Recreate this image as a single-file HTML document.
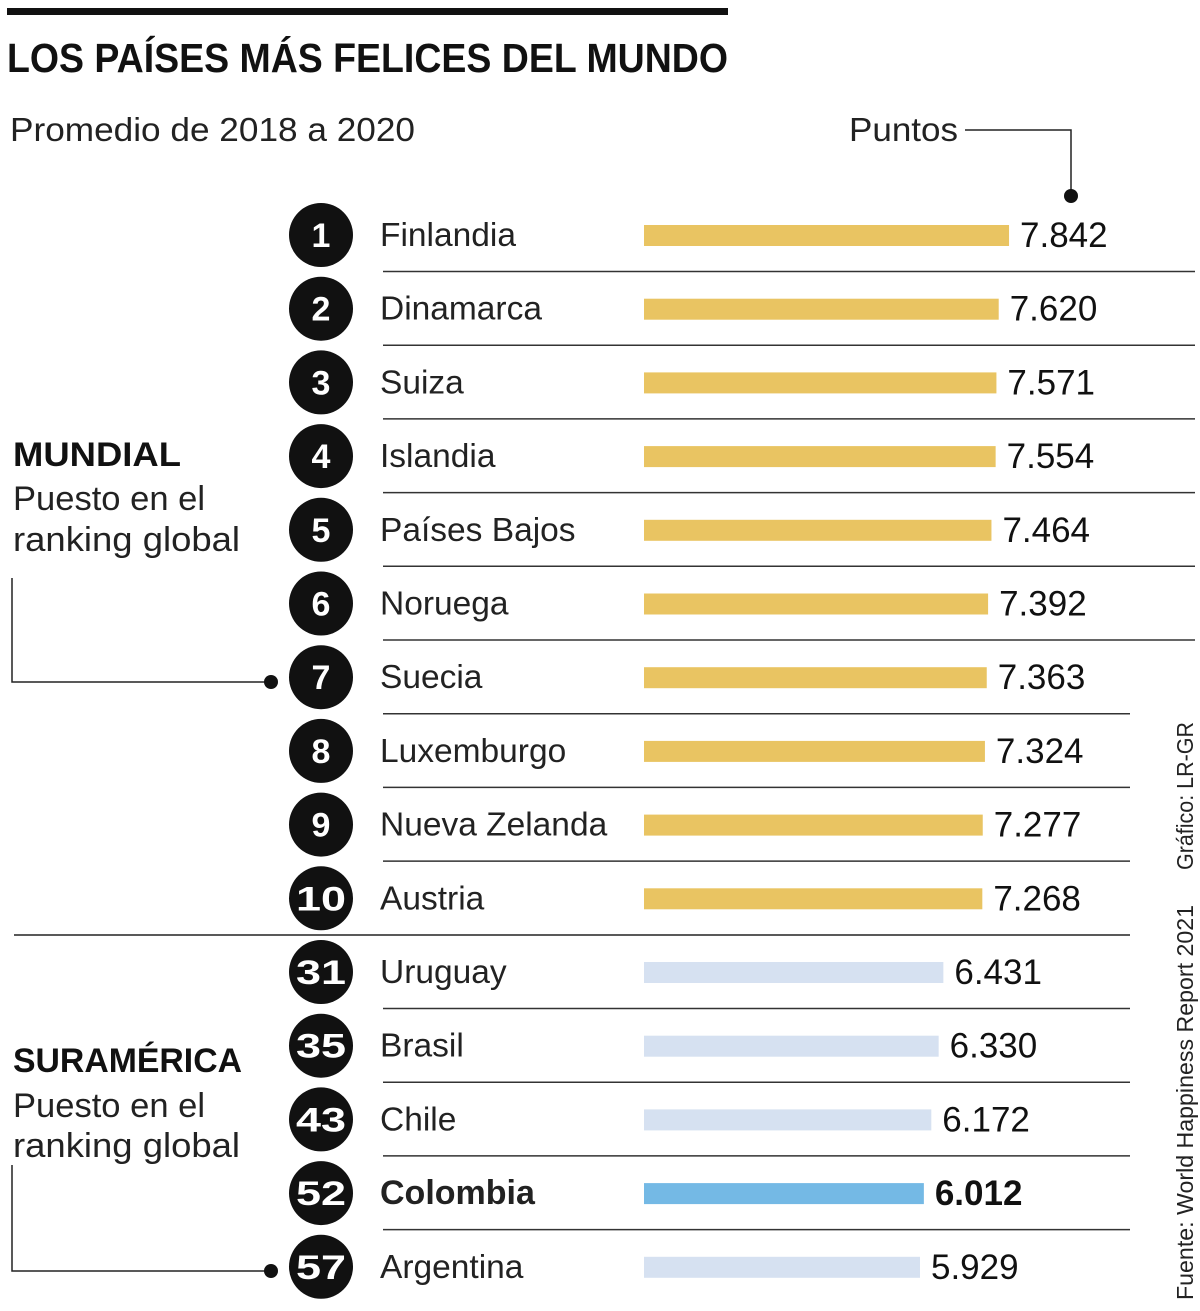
<!DOCTYPE html>
<html><head><meta charset="utf-8"><style>
html,body{margin:0;padding:0;background:#fff}
svg{display:block;font-family:"Liberation Sans",sans-serif}
</style></head><body>
<svg id="chart" width="1200" height="1311" viewBox="0 0 1200 1311" xmlns="http://www.w3.org/2000/svg">
<rect x="7" y="8" width="721" height="7" fill="#111"/>
<text x="7" y="72" font-size="41" font-weight="bold" fill="#111" textLength="721" lengthAdjust="spacingAndGlyphs">LOS PAÍSES MÁS FELICES DEL MUNDO</text>
<text x="10" y="141" font-size="33" fill="#222" textLength="405" lengthAdjust="spacingAndGlyphs">Promedio de 2018 a 2020</text>
<text x="849" y="141" font-size="33" fill="#222" textLength="109" lengthAdjust="spacingAndGlyphs">Puntos</text>
<polyline points="965,130 1071,130 1071,196" fill="none" stroke="#222" stroke-width="1.5"/>
<circle cx="1071" cy="196" r="7" fill="#111"/>
<text x="13" y="466" font-size="34" font-weight="bold" fill="#111" textLength="168" lengthAdjust="spacingAndGlyphs">MUNDIAL</text>
<text x="13" y="510" font-size="34" fill="#222" textLength="192" lengthAdjust="spacingAndGlyphs">Puesto en el</text>
<text x="13" y="551" font-size="34" fill="#222" textLength="227" lengthAdjust="spacingAndGlyphs">ranking global</text>
<polyline points="12,578 12,682 271,682" fill="none" stroke="#222" stroke-width="1.5"/>
<circle cx="271" cy="682" r="7" fill="#111"/>
<text x="13" y="1072" font-size="34" font-weight="bold" fill="#111" textLength="229" lengthAdjust="spacingAndGlyphs">SURAMÉRICA</text>
<text x="13" y="1117" font-size="34" fill="#222" textLength="192" lengthAdjust="spacingAndGlyphs">Puesto en el</text>
<text x="13" y="1157" font-size="34" fill="#222" textLength="227" lengthAdjust="spacingAndGlyphs">ranking global</text>
<polyline points="12,1165 12,1271 271,1271" fill="none" stroke="#222" stroke-width="1.5"/>
<circle cx="271" cy="1271" r="7" fill="#111"/>
<line x1="14" y1="935" x2="1130" y2="935" stroke="#222" stroke-width="1.5"/>
<text transform="translate(1193,870) rotate(-90)" font-size="23" fill="#222" textLength="148" lengthAdjust="spacingAndGlyphs">Gráfico: LR-GR</text>
<text transform="translate(1193,1300) rotate(-90)" font-size="23" fill="#222" textLength="395" lengthAdjust="spacingAndGlyphs">Fuente: World Happiness Report 2021</text>
<g id="rows"></g>
</svg>
<script>
const ranks = [1,2,3,4,5,6,7,8,9,10,31,35,43,52,57];
const countries = ["Finlandia","Dinamarca","Suiza","Islandia","Países Bajos","Noruega","Suecia","Luxemburgo","Nueva Zelanda","Austria","Uruguay","Brasil","Chile","Colombia","Argentina"];
const scores = [7.842,7.620,7.571,7.554,7.464,7.392,7.363,7.324,7.277,7.268,6.431,6.330,6.172,6.012,5.929];
const scoreLabels = ["7.842","7.620","7.571","7.554","7.464","7.392","7.363","7.324","7.277","7.268","6.431","6.330","6.172","6.012","5.929"];

const NS = "http://www.w3.org/2000/svg";
const g = document.getElementById("rows");
const x0 = 644, pxPerPoint = 46.55;
function xScale(v){ return x0 + v * pxPerPoint; }
function yRow(i){ return 235 + i * 73.7; }
function mk(tag, attrs){ const e = document.createElementNS(NS, tag); for (const k in attrs) e.setAttribute(k, attrs[k]); g.appendChild(e); return e; }

ranks.forEach((r, i) => {
  const y = yRow(i);
  const isCol = countries[i] === "Colombia";
  const world = i < 10;
  const c = mk("circle", {cx:321, cy:y, r:32, fill:"#111"});
  
  
  const rt = mk("text", {x:321, y:y+12, "text-anchor":"middle", "font-size":34, "font-weight":"bold", fill:"#fff"});
  if (r >= 10) { rt.setAttribute("textLength", "50"); rt.setAttribute("lengthAdjust", "spacingAndGlyphs"); }
  rt.textContent = r;
  
  
  const nt = mk("text", {x:380, y:y+11, "font-size":isCol?34:33.5, "font-weight":isCol?"bold":"normal", fill:"#222"});
  nt.textContent = countries[i];
  
  
  const bar = mk("rect", {x:x0, y:y-10, width:xScale(scores[i]) - x0, height:21, fill: world ? "#e9c462" : (isCol ? "#74b9e5" : "#d6e1f1")});
  
  
  const vt = mk("text", {x:xScale(scores[i]) + 11, y:y+12, "font-size":35, "font-weight":isCol?"bold":"normal", fill:"#111"});
  vt.textContent = scoreLabels[i];
  
  
  if (i < ranks.length - 1 && i !== 9) {
    const ly = y + 36.5;
    const ln = mk("line", {x1:383, y1:ly, x2: i < 6 ? 1195 : 1130, y2:ly, stroke:"#333", "stroke-width":1.5});
    
    
  }
});
</script>
</body></html>
